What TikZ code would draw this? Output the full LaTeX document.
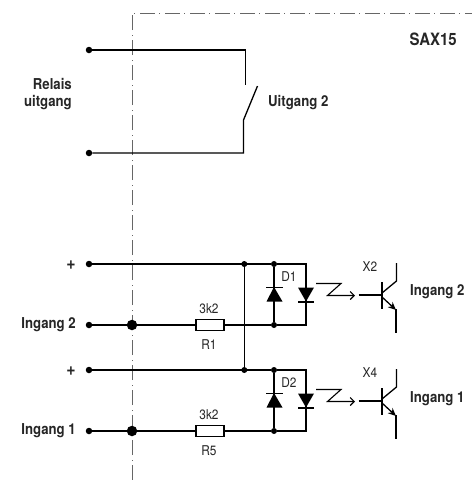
\documentclass[tikz,border=0pt]{standalone}
\usepackage{fontspec}
\usetikzlibrary{arrows.meta}
\setmainfont[FakeStretch=0.88]{TeX Gyre Heros}
\colorlet{ink}{black!85}
\tikzset{
	wire/.style={draw=black,line width=1.3pt,line join=miter},
	frameline/.style={draw=black!60,line width=1pt,dash pattern=on 15pt off 4pt on 1pt off 5pt},
	term/.style={circle,fill=black,inner sep=0pt,minimum size=6.5pt},
	joint/.style={circle,fill=black,inner sep=0pt,minimum size=6pt},
	bigjoint/.style={circle,fill=black,inner sep=0pt,minimum size=10.5pt},
	res/.style={rectangle,draw=black,line width=1.3pt,fill=white,inner sep=0pt,minimum width=28pt,minimum height=11pt},
	lab/.style={font=\bfseries\fontsize{15}{15}\selectfont,text=ink,inner sep=0pt},
	val/.style={font=\fontsize{13.5}{14}\selectfont,text=ink,inner sep=0pt},
	sign/.style={font=\bfseries\fontsize{18}{18}\selectfont,text=ink,inner sep=0pt},
}
\begin{document}
\begin{tikzpicture}[>=stealth,x=1pt,y=-1pt]
	\useasboundingbox (0,0) rectangle (472,480);
	% enclosure
	\coordinate (corner) at (132,13);
	\coordinate (frameend) at (472,13);
	\coordinate (framefoot) at (132,480);
	\draw[frameline] (framefoot) -- (corner) -- (frameend);
	\node[lab,anchor=east,font=\bfseries\fontsize{17}{17}\selectfont] (sax) at (457,39) {SAX15};
	% relay output
	\node[term] (ta) at (89,50) {};
	\node[term] (tb) at (89,153) {};
	\coordinate (sa) at (245.5,85);
	\coordinate (sb) at (243.5,120);
	\coordinate (sc) at (257.5,86);
	\draw[wire] (ta) -- (sa |- ta) -- (sa);
	\draw[wire] (tb) -- (sb |- tb) -- (sb) -- (sc);
	\node[lab,anchor=east] (rel) at (72,84) {Relais};
	\node[lab,anchor=east] (uit) at (72,103) {uitgang};
	\node[lab,anchor=west] (utg) at (268,103) {Uitgang 2};
	% the two inputs
	\foreach \n/\y/\nm/\r/\d/\x/\lx in {2/264/2/1/1/2/292,1/370/1/5/2/4/399}{
		\pgfmathsetmacro{\yb}{\y+61}
		\node[term] (p\n) at (89,\y) {};
		\node[term] (i\n) at (89,\yb) {};
		\node[sign,anchor=center] (plus\n) at (71,\y+1) {+};
		\node[lab,anchor=east] (inp\n) at (76,\yb) {Ingang \nm};
		\node[bigjoint] (b\n) at (132,\yb) {};
		\node[res] (r\n) at (210,\yb) {};
		\node[joint] (ja\n) at (274,\y) {};
		\node[joint] (jb\n) at (274,\yb) {};
		\node[val] (rv\n) at (209,\yb-16) {3k2};
		\node[val] (rn\n) at (209,\yb+20) {R\r};
		\node[val] (dn\n) at (289,\y+12.5) {D\d};
		\node[val] (xn\n) at (370,\y+3) {X\x};
		\node[lab,anchor=west] (out\n) at (410,\lx) {Ingang \nm};
		\coordinate (c\n) at (306,\y);
		\coordinate (e\n) at (306,\yb);
		\draw[wire] (p\n) -- (ja\n) -- (c\n) -- (e\n) -- (jb\n) -- (ja\n);
		\draw[wire] (i\n) -- (b\n) -- (r\n) -- (jb\n);
		% protection diode and led
		\fill (266.5,\y+37.5) -- (282.5,\y+37.5) -- (274,\y+23) -- cycle;
		\draw[wire] (266,\y+23.2) -- (283,\y+23.2);
		\fill (298,\y+23.5) -- (314,\y+23.5) -- (306,\y+37.5) -- cycle;
		\draw[wire] (298,\y+38) -- (314,\y+38);
		% light
		\draw[line width=1.1pt,-{Straight Barb[length=4pt,width=8pt]}] (316,\y+19.5) -- (341,\y+19.5) -- (327.5,\y+31.5) -- (355,\y+31.5);
		% transistor
		\coordinate (base\n) at (382,\y+31);
		\draw[wire] (358.5,\y+31) -- (base\n);
		\draw[wire] (382,\y+18) -- (382,\y+45);
		\draw[wire] (396.5,\y-1) -- (396.5,\y+17) -- (382,\y+29);
		\draw[wire,-{Stealth[length=8pt,width=7pt]}] (382,\y+33) -- (396,\y+46);
		\draw[wire] (396,\y+45) -- (396,\y+69);
	}
	\coordinate (top) at (244.3,264);
	\coordinate (low) at (244.3,370);
	\node[joint] (ca) at (top) {};
	\node[joint] (cb) at (low) {};
	\draw[wire] (ca) -- (cb);
\end{tikzpicture}
\end{document}
